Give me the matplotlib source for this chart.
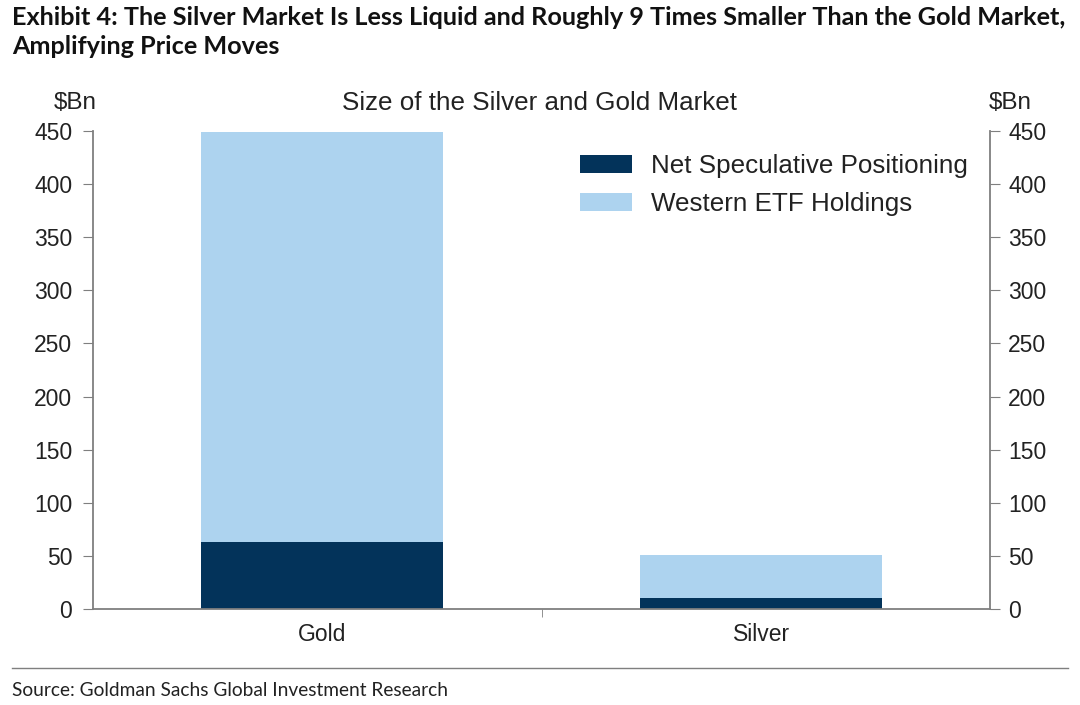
import numpy as np
import matplotlib.pyplot as plt
from matplotlib.lines import Line2D

plt.rcParams['font.family'] = ['Liberation Sans', 'DejaVu Sans']

# Data ($Bn)
markets = ["Gold", "Silver"]
net_spec = [62.7, 10.5]
etf_holdings = [386.3, 40.0]

dark = "#03335A"
light = "#ADD3EF"
grey = "#7F7F7F"
txt = "#222222"

W, H = 1080, 705
fig = plt.figure(figsize=(W / 100, H / 100), dpi=100)
# axes box in pixels: left 93, right 990, top 131, bottom 609
ax = fig.add_axes([93 / W, 1 - 609 / H, (990 - 93) / W, (609 - 131) / H])

x = np.arange(len(markets))
ax.bar(x, net_spec, width=0.55, color=dark, label="Net Speculative Positioning")
ax.bar(x, etf_holdings, width=0.55, bottom=net_spec, color=light,
       label="Western ETF Holdings")

ax.set_xlim(-0.52, 1.52)
ax.set_ylim(0, 450)
yt = np.arange(0, 451, 50)
ax.set_yticks(yt)
ax.set_xticks(x)
ax.set_xticklabels(markets)
ax.set_xticks([0.5], minor=True)
ax.tick_params(axis='x', which='major', length=0, pad=10, labelsize=16.5, labelcolor=txt)
ax.tick_params(axis='x', which='minor', length=6, direction='out', color=grey)
ax.tick_params(axis='y', length=7, direction='out', color=grey, labelsize=16.5,
               labelcolor=txt, pad=8)

for s in ["top", "right"]:
    ax.spines[s].set_visible(False)
for s in ["left", "bottom"]:
    ax.spines[s].set_color(grey)
    ax.spines[s].set_linewidth(1.3)

ax2 = ax.twinx()
ax2.set_ylim(0, 450)
ax2.set_yticks(yt)
ax2.tick_params(axis='y', length=7, direction='out', color=grey, labelsize=16.5,
                labelcolor=txt, pad=6)
for s in ["top", "left", "bottom"]:
    ax2.spines[s].set_visible(False)
ax2.spines["right"].set_color(grey)
ax2.spines["right"].set_linewidth(1.3)

leg = ax.legend(loc="upper left", bbox_to_anchor=(580 / W, 1 - 154 / H),
                bbox_transform=fig.transFigure, frameon=False, borderpad=0,
                borderaxespad=0, fontsize=18.7, handlelength=2.0, handleheight=0.65,
                labelspacing=0.55, handletextpad=0.75)
for t in leg.get_texts():
    t.set_color(txt)

fig.text(0.5, 1 - 103 / H, "Size of the Silver and Gold Market", ha="center", va="center",
         fontsize=18.7, color=txt)
fig.text(75 / W, 1 - 103 / H, "$Bn", ha="center", va="center", fontsize=17.5, color=txt)
fig.text(1010 / W, 1 - 103 / H, "$Bn", ha="center", va="center", fontsize=17.5, color=txt)

fig.text(12 / W, 1 - 6 / H, "Exhibit 4: The Silver Market Is Less Liquid and Roughly 9 Times Smaller Than the Gold Market,\nAmplifying Price Moves",
         ha="left", va="top", fontsize=18.2, fontweight="bold",
         family=['Lato', 'DejaVu Sans'], color="#111111", linespacing=1.3)

sep_y = 1 - 668 / H
fig.add_artist(Line2D([12 / W, 1068 / W], [sep_y, sep_y], transform=fig.transFigure,
                      color=grey, linewidth=1))
fig.text(12 / W, 1 - 690 / H, "Source: Goldman Sachs Global Investment Research",
         ha="left", va="center", fontsize=13.75, color=txt,
         family=['Lato', 'DejaVu Sans'])

fig.savefig("out.png", dpi=100)
